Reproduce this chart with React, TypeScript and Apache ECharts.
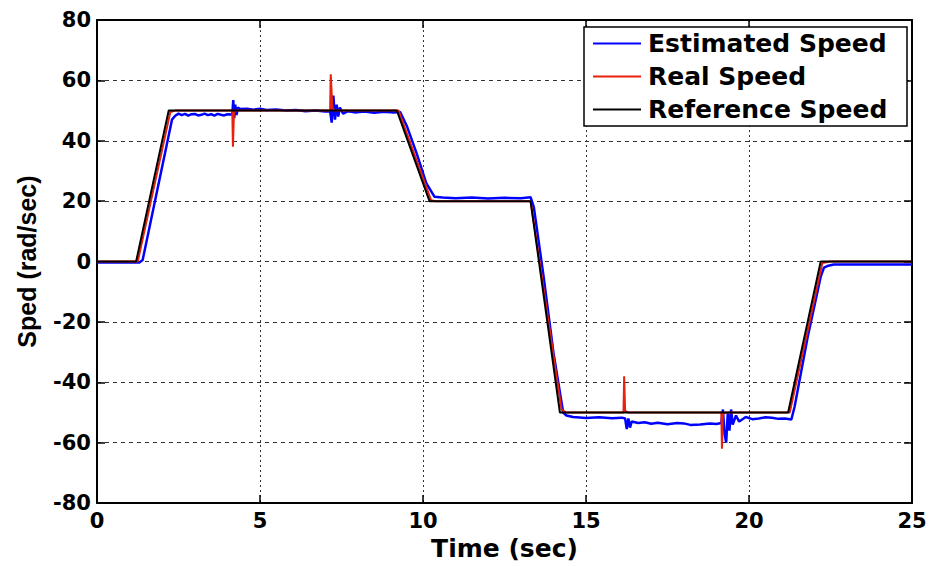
import React, { useEffect, useRef } from "react";
import * as echarts from "echarts";

// Reference speed (rad/sec)
const refTime = [0, 1.2, 2.2, 9.2, 10.2, 13.3, 14.2, 21.2, 22.2, 25];
const refSpeed = [0, 0, 50, 50, 20, 20, -50, -50, 0, 0];

// Real speed
const realTime = [0, 1.25, 2.25, 2.4, 4.15, 4.17, 4.2, 4.25, 4.4, 7.15, 7.17, 7.22, 7.3, 9.25, 10.25, 10.4, 13.3, 14.25, 14.4, 16.15, 16.17, 16.2, 16.3, 19.15, 19.17, 19.2, 19.3, 21.25, 22.25, 22.5, 25];
const realSpeed = [0, 0, 49.5, 50, 50, 38, 49, 50, 50, 50, 62, 51, 50, 50, 20.3, 20, 20, -49, -50, -50, -38, -49.5, -50, -50, -62, -50.5, -50, -50, -0.5, 0, 0];

// Estimated speed
const estTime = [0, 1.3, 1.4, 2.3, 2.4, 2.5, 2.6, 2.7, 2.8, 2.9, 3.0, 3.1, 3.2, 3.3, 3.4, 3.5, 3.6, 3.7, 3.8, 3.9, 4.0, 4.15, 4.18, 4.21, 4.24, 4.28, 4.32, 4.4, 4.6, 4.8, 5.0, 5.2, 5.5, 5.8, 6.1, 6.4, 6.7, 7.0, 7.15, 7.2, 7.25, 7.3, 7.35, 7.4, 7.45, 7.55, 7.7, 7.9, 8.2, 8.5, 8.8, 9.1, 9.3, 9.5, 9.8, 10.1, 10.35, 10.6, 11, 11.5, 12, 12.5, 13, 13.3, 13.4, 13.7, 14.0, 14.3, 14.4, 14.6, 15, 15.4, 15.8, 16.1, 16.2, 16.25, 16.3, 16.35, 16.4, 16.6, 16.8, 17, 17.2, 17.5, 17.8, 18, 18.2, 18.5, 18.8, 19.0, 19.15, 19.2, 19.25, 19.3, 19.35, 19.4, 19.45, 19.5, 19.6, 19.7, 19.9, 20.1, 20.3, 20.5, 20.7, 20.9, 21.1, 21.3, 21.4, 21.8, 22.2, 22.3, 22.4, 22.6, 25];
const estSpeed = [-0.3, -0.3, 0.5, 47, 48.3, 49.0, 48.5, 48.9, 48.3, 48.8, 48.9, 48.4, 48.6, 49.0, 48.5, 48.8, 48.3, 48.9, 48.6, 48.4, 48.8, 48.7, 53.5, 47.5, 52, 48.5, 51, 50.5, 50.6, 50.3, 50.6, 50.2, 50.4, 50.0, 50.2, 49.8, 50.0, 49.7, 49.8, 46, 55, 47, 52, 48, 51, 49, 49.8, 49.4, 49.7, 49.3, 49.6, 49.4, 49.5, 45, 36, 26, 21.5, 21.2, 21.0, 21.2, 20.9, 21.1, 21.0, 21.3, 18, -5, -30, -50, -51, -51.5, -51.8, -51.6, -51.9, -51.7, -52, -55.5, -52, -55, -53, -53.5, -53.2, -53.7, -53.4, -53.9, -53.5, -53.6, -54.1, -54, -53.6, -53.8, -53.5, -49, -57, -60, -50, -56, -49, -54, -51, -53, -51.5, -52.2, -52, -51.6, -51.7, -52.1, -52, -52.3, -48, -25, -5, -2, -1.5, -1, -1];

const seriesNames = ["Estimated Speed", "Real Speed", "Reference Speed"];
const xTicks = { min: 0, max: 25, interval: 5 };
const yTicks = { min: -80, max: 80, interval: 20 };

const zip = (a: number[], b: number[]) => a.map((t, i) => [t, b[i]]);

export default function App() {
  const ref = useRef<HTMLDivElement>(null);
  useEffect(() => {
    if (!ref.current) return;
    const chart = echarts.init(ref.current, undefined, { renderer: "svg" });
    const tickFont = {
      fontFamily: "DejaVu Sans",
      fontWeight: "bold" as const,
      fontSize: 21,
      color: "#000",
    };
    chart.setOption({
      animation: false,
      backgroundColor: "#fff",
      grid: { left: 97, right: 22, top: 20, bottom: 62, containLabel: false },
      legend: {
        data: seriesNames,
        orient: "vertical",
        right: 27,
        top: 27,
        icon: "rect",
        itemWidth: 48,
        itemHeight: 2,
        itemGap: 8,
        padding: [4, 12, 4, 9],
        backgroundColor: "#fff",
        borderColor: "#000",
        borderWidth: 1.5,
        borderRadius: 0,
        textStyle: {
          fontFamily: "DejaVu Sans",
          fontWeight: "bold",
          fontSize: 25,
          lineHeight: 25,
          width: 247,
          padding: [0, 0, 0, 2],
          color: "#000",
        },
      },
      xAxis: [
        {
          type: "value",
          ...xTicks,
          name: "Time (sec)",
          nameLocation: "middle",
          nameGap: 31,
          nameTextStyle: { fontFamily: "DejaVu Sans", fontWeight: "bold", fontSize: 25, color: "#000" },
          axisLine: { show: true, onZero: false, lineStyle: { color: "#000", width: 2 } },
          axisTick: { show: true, inside: true, length: 8, lineStyle: { color: "#000", width: 1.5 } },
          axisLabel: { ...tickFont, margin: 7 },
          splitLine: { show: true, lineStyle: { color: "#333", width: 1, type: [2, 3] } },
        },
        {
          type: "value",
          ...xTicks,
          position: "top",
          axisLine: { show: true, onZero: false, lineStyle: { color: "#000", width: 2 } },
          axisTick: { show: true, inside: true, length: 8, lineStyle: { color: "#000", width: 1.5 } },
          axisLabel: { show: false },
          splitLine: { show: false },
        },
      ],
      yAxis: [
        {
          type: "value",
          ...yTicks,
          name: "Sped (rad/sec)",
          nameLocation: "middle",
          nameGap: 58,
          nameTextStyle: { fontFamily: "Liberation Sans", fontWeight: "bold", fontSize: 25, color: "#000" },
          axisLine: { show: true, onZero: false, lineStyle: { color: "#000", width: 2 } },
          axisTick: { show: true, inside: true, length: 8, lineStyle: { color: "#000", width: 1.5 } },
          axisLabel: { ...tickFont, margin: 6 },
          splitLine: { show: true, lineStyle: { color: "#333", width: 1, type: [4, 4] } },
        },
        {
          type: "value",
          ...yTicks,
          position: "right",
          axisLine: { show: true, onZero: false, lineStyle: { color: "#000", width: 2 } },
          axisTick: { show: true, inside: true, length: 8, lineStyle: { color: "#000", width: 1.5 } },
          axisLabel: { show: false },
          splitLine: { show: false },
        },
      ],
      series: [
        {
          name: seriesNames[0],
          type: "line",
          data: zip(estTime, estSpeed),
          showSymbol: false,
          symbol: "none",
          color: "#0000ff",
          lineStyle: { color: "#0000ff", width: 2.5 },
        },
        {
          name: seriesNames[1],
          type: "line",
          data: zip(realTime, realSpeed),
          showSymbol: false,
          symbol: "none",
          color: "#e8200c",
          lineStyle: { color: "#e8200c", width: 2 },
        },
        {
          name: seriesNames[2],
          type: "line",
          data: zip(refTime, refSpeed),
          showSymbol: false,
          symbol: "none",
          color: "#000",
          lineStyle: { color: "#000", width: 2 },
        },
      ],
    });
    return () => chart.dispose();
  }, []);
  return (
    <div
      ref={ref}
      style={{ position: "fixed", left: 0, top: 0, width: 934, height: 566 }}
    />
  );
}
